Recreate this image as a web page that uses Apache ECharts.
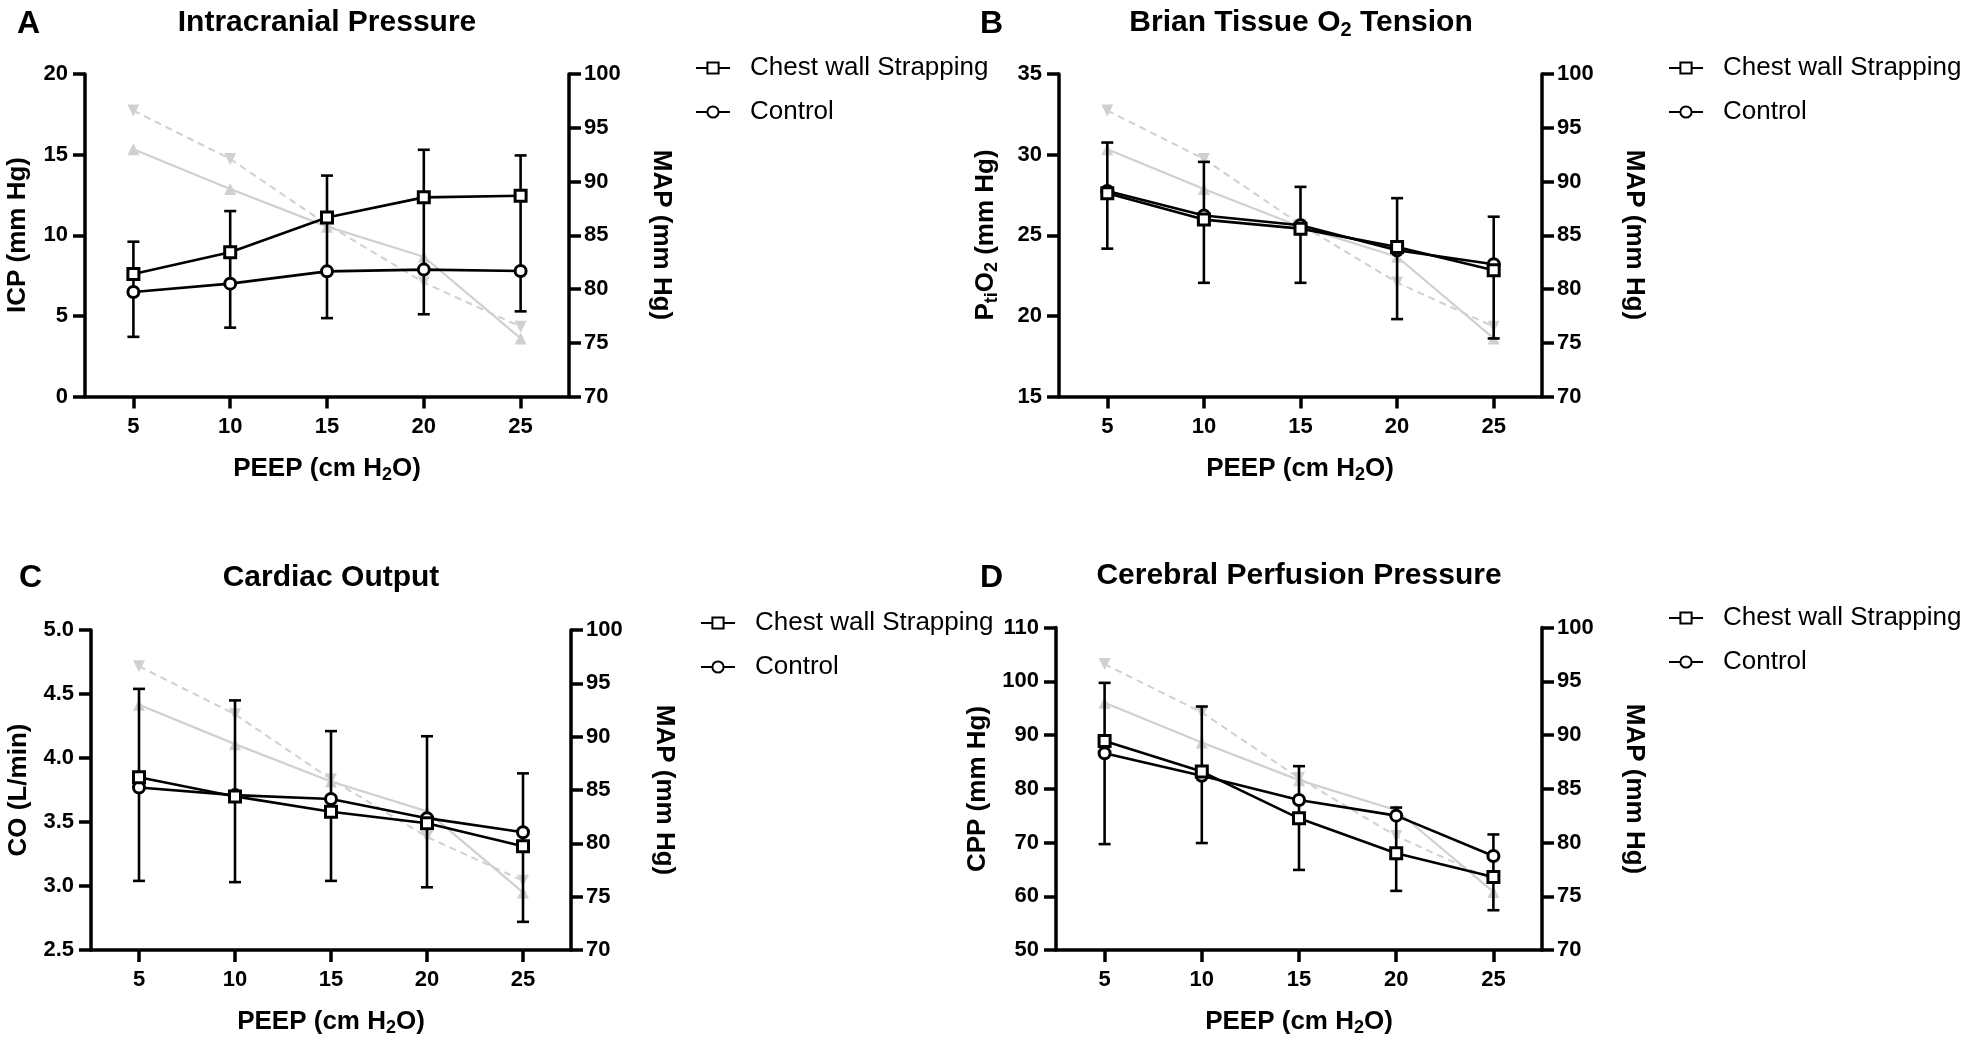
<!DOCTYPE html>
<html><head><meta charset="utf-8">
<script src="https://cdn.jsdelivr.net/npm/echarts@6/dist/echarts.min.js"></script>
<style>html,body{margin:0;padding:0;background:#fff}#c{width:1961px;height:1049px}</style>
</head><body><div id="c"></div>
<script>
// ---------- DATA ----------
const peep = ['5', '10', '15', '20', '25'];
const seriesNames = ['Chest wall Strapping', 'Control'];

// MAP (right axis, grey) – identical in every panel
const mapSolid  = [93.0, 89.3, 85.8, 83.0, 75.4];   // solid line, up triangles
const mapDashed = [96.6, 92.1, 86.0, 80.6, 76.5];   // dashed line, down triangles

// A: Intracranial Pressure
const icpCWS       = [7.6, 8.95, 11.1, 12.35, 12.45];
const icpControl   = [6.48, 7.0, 7.76, 7.87, 7.78];
const icpErrTop    = [9.6, 11.5, 13.7, 15.3, 14.95];
const icpErrBottom = [3.7, 4.27, 4.86, 5.1, 5.28];

// B: Brain tissue O2 tension
const ptoCWS       = [27.6, 25.97, 25.41, 24.27, 22.83];
const ptoControl   = [27.75, 26.22, 25.62, 24.07, 23.2];
const ptoErrTop    = [30.75, 29.55, 28.0, 27.3, 26.15];
const ptoErrBottom = [24.17, 22.05, 22.05, 19.8, 18.6];

// C: Cardiac output
const coCWS        = [3.85, 3.70, 3.58, 3.49, 3.31];
const coControl    = [3.77, 3.71, 3.68, 3.53, 3.42];
const coErrTop     = [4.54, 4.45, 4.21, 4.17, 3.88];
const coErrBottom  = [3.04, 3.03, 3.04, 2.99, 2.72];

// D: Cerebral perfusion pressure
const cppCWS       = [88.9, 83.2, 74.5, 68.0, 63.6];
const cppControl   = [86.6, 82.4, 77.9, 75.0, 67.5];
const cppErrTop    = [99.7, 95.3, 84.2, 76.5, 71.5];
const cppErrBottom = [69.7, 69.9, 64.9, 61.0, 57.4];

// ---------- LAYOUT ----------
const FONT = '"Liberation Sans", Arial, Helvetica, sans-serif';
const BLACK = '#000';
const GREY = '#d0d0d0';

const panels = [
  { grid: {left: 85, top: 74, width: 484, height: 322.5}, yMin: 0, yMax: 20, yInt: 5, dec: 0,
    cws: icpCWS, ctrl: icpControl, eTop: icpErrTop, eBot: icpErrBottom,
    legend: {left: 695, top: 55}, },
  { grid: {left: 1059, top: 74, width: 483, height: 322.5}, yMin: 15, yMax: 35, yInt: 5, dec: 0,
    cws: ptoCWS, ctrl: ptoControl, eTop: ptoErrTop, eBot: ptoErrBottom,
    legend: {left: 1668, top: 55}, },
  { grid: {left: 91, top: 630, width: 480, height: 320}, yMin: 2.5, yMax: 5, yInt: 0.5, dec: 1,
    cws: coCWS, ctrl: coControl, eTop: coErrTop, eBot: coErrBottom,
    legend: {left: 700, top: 610}, },
  { grid: {left: 1056, top: 627.5, width: 486, height: 322.5}, yMin: 50, yMax: 110, yInt: 10, dec: 0,
    cws: cppCWS, ctrl: cppControl, eTop: cppErrTop, eBot: cppErrBottom,
    legend: {left: 1668, top: 605}, },
];

const axisLineStyle = {color: BLACK, width: 3.5};
const tickLabel = {color: BLACK, fontSize: 22, fontWeight: 'bold', fontFamily: FONT};

const grids = [], xAxes = [], yAxes = [], series = [], legends = [];
panels.forEach((p, i) => {
  grids.push(Object.assign({containLabel: false}, p.grid));
  xAxes.push({
    type: 'category', gridIndex: i, data: peep, boundaryGap: true,
    axisLine: {show: true, lineStyle: axisLineStyle},
    axisTick: {show: true, alignWithLabel: true, length: 12, lineStyle: axisLineStyle},
    axisLabel: Object.assign({margin: 19}, tickLabel),
    splitLine: {show: false}
  });
  yAxes.push({
    type: 'value', gridIndex: i, position: 'left', min: p.yMin, max: p.yMax, interval: p.yInt,
    axisLine: {show: true, onZero: false, lineStyle: axisLineStyle},
    axisTick: {show: true, length: 12, lineStyle: axisLineStyle},
    axisLabel: Object.assign({margin: 17, formatter: v => v.toFixed(p.dec)}, tickLabel),
    splitLine: {show: false}
  });
  yAxes.push({
    type: 'value', gridIndex: i, position: 'right', min: 70, max: 100, interval: 5,
    axisLine: {show: true, onZero: false, lineStyle: axisLineStyle},
    axisTick: {show: true, length: 12, lineStyle: axisLineStyle},
    axisLabel: Object.assign({margin: 15}, tickLabel),
    splitLine: {show: false}
  });
  const yl = 2 * i, yr = 2 * i + 1;
  // grey MAP lines
  series.push({
    name: 'MAP (solid)', type: 'line', xAxisIndex: i, yAxisIndex: yr, data: mapSolid,
    symbol: 'triangle', symbolSize: 12, z: 1, silent: true,
    itemStyle: {color: GREY}, lineStyle: {color: GREY, width: 2.2}
  });
  series.push({
    name: 'MAP (dashed)', type: 'line', xAxisIndex: i, yAxisIndex: yr, data: mapDashed,
    symbol: 'triangle', symbolRotate: 180, symbolSize: 12, z: 1, silent: true,
    itemStyle: {color: GREY}, lineStyle: {color: GREY, width: 2, type: [7, 5]}
  });
  // error bars
  series.push({
    name: 'SD', type: 'custom', xAxisIndex: i, yAxisIndex: yl, z: 2, silent: true,
    data: peep.map((c, j) => [j, p.eBot[j], p.eTop[j]]),
    encode: {x: 0, y: [1, 2]},
    renderItem: (params, api) => {
      const lo = api.coord([api.value(0), api.value(1)]);
      const hi = api.coord([api.value(0), api.value(2)]);
      const w = 6;
      const st = {stroke: BLACK, lineWidth: 2.6};
      return {type: 'group', children: [
        {type: 'line', shape: {x1: lo[0], y1: lo[1], x2: hi[0], y2: hi[1]}, style: st},
        {type: 'line', shape: {x1: hi[0] - w, y1: hi[1], x2: hi[0] + w, y2: hi[1]}, style: st},
        {type: 'line', shape: {x1: lo[0] - w, y1: lo[1], x2: lo[0] + w, y2: lo[1]}, style: st}
      ]};
    }
  });
  series.push({
    name: seriesNames[0], type: 'line', xAxisIndex: i, yAxisIndex: yl, data: p.cws,
    symbol: 'rect', symbolSize: 11, z: 4,
    itemStyle: {color: '#fff', borderColor: BLACK, borderWidth: 3},
    lineStyle: {color: BLACK, width: 2.6}
  });
  series.push({
    name: seriesNames[1], type: 'line', xAxisIndex: i, yAxisIndex: yl, data: p.ctrl,
    symbol: 'circle', symbolSize: 11, z: 3,
    itemStyle: {color: '#fff', borderColor: BLACK, borderWidth: 3},
    lineStyle: {color: BLACK, width: 2.6}
  });
  legends.push({
    data: seriesNames, orient: 'vertical', left: p.legend.left, top: p.legend.top,
    padding: 0, itemWidth: 34, itemHeight: 14, itemGap: 18, selectedMode: false,
    textStyle: {fontSize: 26, fontFamily: FONT, color: BLACK, padding: [0, 0, 0, 15]}
  });
});

// ---------- TEXT ----------
const nameRich = {
  n: {fontSize: 26, fontWeight: 'bold', fontFamily: FONT, color: BLACK},
  s: {fontSize: 18, fontWeight: 'bold', fontFamily: FONT, color: BLACK, padding: [12, 0, 0, 0]}
};
const titleRich = {
  t: {fontSize: 30, fontWeight: 'bold', fontFamily: FONT, color: BLACK},
  s: {fontSize: 20, fontWeight: 'bold', fontFamily: FONT, color: BLACK, padding: [14, 0, 0, 0]}
};
function txt(text, x, y, rich, rotation) {
  return {type: 'text', x: x, y: y, rotation: rotation || 0, silent: true,
    style: {text: text, rich: rich, align: 'center', verticalAlign: 'middle'}};
}
function letter(t, x, y) {
  return {type: 'text', x: x, y: y, silent: true,
    style: {text: t, fontSize: 32, fontWeight: 'bold', fontFamily: FONT, fill: BLACK, align: 'left', verticalAlign: 'middle'}};
}
const R = Math.PI / 2;
const xName = '{n|PEEP (cm H}{s|2}{n|O)}';
const mapName = '{n|MAP (mm Hg)}';
const graphics = [
  letter('A', 17, 24), letter('B', 980, 24), letter('C', 19, 578), letter('D', 980, 578),
  txt('{t|Intracranial Pressure}', 327, 23, titleRich),
  txt('{t|Brian Tissue O}{s|2}{t| Tension}', 1301, 23, titleRich),
  txt('{t|Cardiac Output}', 331, 578, titleRich),
  txt('{t|Cerebral Perfusion Pressure}', 1299, 576, titleRich),
  txt(xName, 327, 469, nameRich), txt(xName, 1300, 469, nameRich),
  txt(xName, 331, 1022, nameRich), txt(xName, 1299, 1022, nameRich),
  txt('{n|ICP (mm Hg)}', 18, 235, nameRich, R),
  txt('{n|P}{s|ti}{n|O}{s|2}{n| (mm Hg)}', 986, 235, nameRich, R),
  txt('{n|CO (L/min)}', 19, 790, nameRich, R),
  txt('{n|CPP (mm Hg)}', 978, 789, nameRich, R),
  txt(mapName, 661, 235, nameRich, -R), txt(mapName, 1634, 235, nameRich, -R),
  txt(mapName, 664, 790, nameRich, -R), txt(mapName, 1634, 789, nameRich, -R)
];

const chart = echarts.init(document.getElementById('c'));
chart.setOption({
  animation: false,
  backgroundColor: '#fff',
  grid: grids, xAxis: xAxes, yAxis: yAxes, series: series, legend: legends,
  graphic: graphics
});
</script></body></html>
